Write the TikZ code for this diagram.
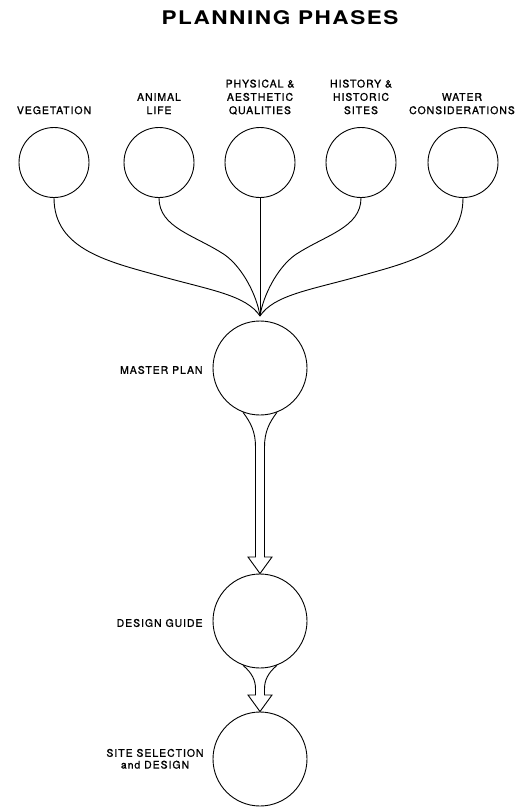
\documentclass[tikz,border=0pt]{standalone}
\usepackage{fontspec}
\setmainfont{TeX Gyre Heros}
\newfontfamily\labelfont[LetterSpace=9,FakeBold=1]{TeX Gyre Heros}
\newfontfamily\titlefont[LetterSpace=8,FakeStretch=1.2]{TeX Gyre Heros}
\begin{document}
\begin{tikzpicture}[x=1pt,y=-1pt,
  line width=0.9pt,
  topcirc/.style={draw,circle,inner sep=0pt,minimum size=70pt},
  bigcirc/.style={draw,circle,inner sep=0pt,minimum size=94pt},
  toplabel/.style={align=center,anchor=south,inner sep=0pt,text depth=0pt,
    font=\labelfont\fontsize{10.5}{13.3}\selectfont},
  sidelabel/.style={align=center,inner sep=0pt,text depth=0pt,
    font=\labelfont\fontsize{10.5}{11.8}\selectfont},
  link/.style={line width=0.9pt},
  fatarrow/.style={line width=0.9pt,line join=miter}
]
\useasboundingbox (0,0) rectangle (531,807);

% title
\node[anchor=base,inner sep=0pt,font=\titlefont\bfseries\fontsize{18.8}{22}\selectfont] (title) at (280,24) {PLANNING PHASES};

% top labels
\node[toplabel] (lveg) at (54,114.5) {VEGETATION};
\node[toplabel] (lani) at (159,114.5) {ANIMAL\\LIFE};
\node[toplabel] (lphy) at (260,114.5) {PHYSICAL \&\\AESTHETIC\\QUALITIES};
\node[toplabel] (lhis) at (361,114.5) {HISTORY \&\\HISTORIC\\SITES};
\node[toplabel] (lwat) at (462,114.5) {WATER\\CONSIDERATIONS};

% top circles
\node[topcirc] (veg) at (54,162.5) {};
\node[topcirc] (ani) at (159,162.5) {};
\node[topcirc] (phy) at (260,162.5) {};
\node[topcirc] (his) at (361,162.5) {};
\node[topcirc] (wat) at (463,162.5) {};

% convergence point
\coordinate (conv) at (260,316);

% main circles
\node[bigcirc] (master) at (260,368) {};
\node[bigcirc] (design) at (260,621) {};
\node[bigcirc] (site) at (260,759) {};

% side labels
\node[sidelabel,anchor=base east] (lmaster) at (203,373.8) {MASTER PLAN};
\node[sidelabel,anchor=base east] (ldesign) at (203,626.8) {DESIGN GUIDE};
\node[sidelabel,anchor=south east] (lsite) at (204,769) {SITE SELECTION\\and DESIGN};

% converging links
\draw[link] (veg.south) .. controls (54,250) and (110,262) .. (160,276)
  .. controls (210,290) and (246,295) .. (conv);
\draw[link] (ani.south) .. controls (159,228) and (195,235) .. (225,255)
  .. controls (243,268) and (257,296) .. (conv);
\draw[link] (phy.south) -- (conv);
\draw[link] (his.south) .. controls (361,228) and (325,235) .. (295,255)
  .. controls (277,268) and (263,296) .. (conv);
\draw[link] (wat.south) .. controls (463,250) and (410,262) .. (360,276)
  .. controls (310,290) and (274,295) .. (conv);

% fat arrow master -> design
\draw[fatarrow] (master.-111) .. controls (251,423) and (255.5,432) .. (255.5,447)
  -- (255.5,557) -- (248,557) -- (design.north) -- (272,557) -- (264.5,557)
  -- (264.5,447) .. controls (264.5,432) and (269,423) .. (master.-69);

% fat arrow design -> site
\draw[fatarrow] (design.-111) .. controls (252,673) and (255.5,680) .. (255.5,689)
  -- (255.5,695) -- (248,695) -- (site.north) -- (272,695) -- (264.5,695)
  -- (264.5,689) .. controls (264.5,680) and (268,673) .. (design.-69);
\end{tikzpicture}
\end{document}
